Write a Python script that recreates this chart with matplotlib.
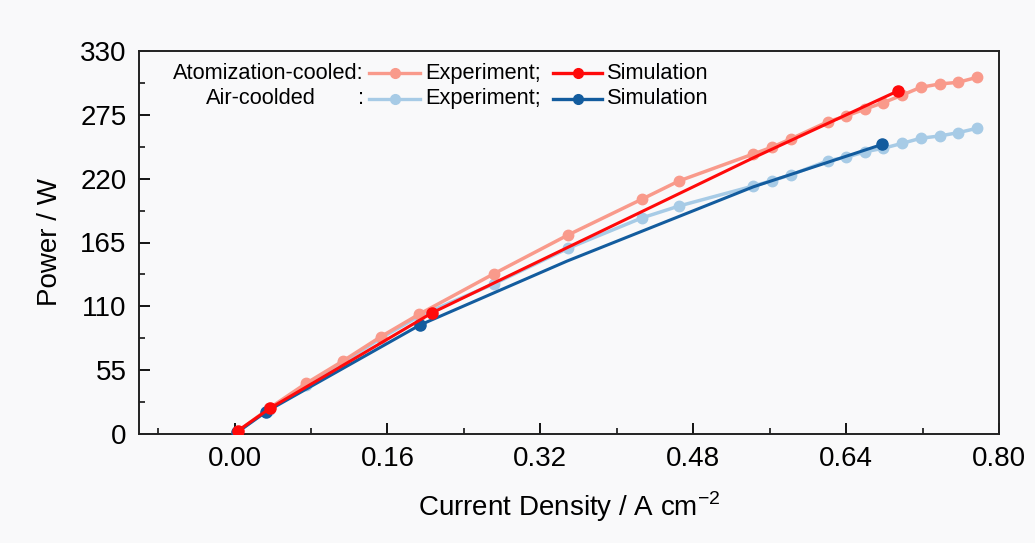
import matplotlib
matplotlib.use("Agg")
import matplotlib.pyplot as plt
from matplotlib.lines import Line2D
from matplotlib.ticker import MultipleLocator

plt.rcParams['font.family'] = ['Liberation Sans', 'DejaVu Sans']
plt.rcParams['mathtext.fontset'] = 'custom'
plt.rcParams['mathtext.rm'] = 'Liberation Sans'

# Atomization-cooled experiment
atom_exp_x = [0.003, 0.036, 0.075, 0.114, 0.153, 0.193, 0.271, 0.349, 0.426, 0.465,
              0.543, 0.562, 0.582, 0.621, 0.640, 0.660, 0.679, 0.699, 0.718, 0.738, 0.757, 0.777]
atom_exp_y = [2.0, 22.0, 43.7, 63.2, 83.8, 103.1, 137.9, 171.5, 202.2, 218.0,
              241.3, 247.0, 254.2, 269.1, 274.0, 280.0, 285.5, 292.1, 298.7, 301.6, 303.0, 307.3]
# Air-cooled experiment
air_exp_x = atom_exp_x
air_exp_y = [1.8, 21.0, 42.0, 62.0, 82.5, 101.5, 129.2, 160.0, 186.1, 196.4,
             213.7, 218.2, 223.2, 235.5, 238.4, 243.2, 246.2, 250.5, 254.8, 256.8, 259.6, 263.4]
# Atomization-cooled simulation (markers on first, second, third and last points)
atom_sim_x = [0.0035, 0.037, 0.207, 0.543, 0.694]
atom_sim_y = [2.8, 22.1, 104.5, 238.0, 295.5]
atom_sim_marks = [0, 1, 2, 4]
# Air-cooled simulation
air_sim_x = [0.003, 0.033, 0.194, 0.348, 0.543, 0.678]
air_sim_y = [1.5, 19.2, 93.9, 149.0, 213.0, 249.6]
air_sim_marks = [0, 1, 2, 5]

xticks = [0.00, 0.16, 0.32, 0.48, 0.64, 0.80]
yticks = [0, 55, 110, 165, 220, 275, 330]

c_salmon = '#F99A8B'
c_red = '#FF0A0A'
c_lblue = '#A7CBE6'
c_dblue = '#135C9E'
bg = '#F9F9FA'

fig = plt.figure(figsize=(10.35, 5.43), dpi=100, facecolor=bg)
ax = fig.add_axes([139/1035, 1-434/543, (999-139)/1035, (434-51)/543], facecolor=bg)

ax.plot(air_exp_x, air_exp_y, color=c_lblue, lw=2.5, marker='o', ms=7.5, zorder=2)
ax.plot(atom_exp_x, atom_exp_y, color=c_salmon, lw=2.5, marker='o', ms=7.5, zorder=3)
ax.plot(air_sim_x, air_sim_y, color=c_dblue, lw=2.2, marker='o', ms=8,
        markevery=air_sim_marks, zorder=4)
ax.plot(atom_sim_x, atom_sim_y, color=c_red, lw=2.2, marker='o', ms=8,
        markevery=atom_sim_marks, zorder=5)

ax.set_xlim(-0.1, 0.8)
ax.set_ylim(0, 330)
ax.set_xticks(xticks)
ax.set_xticklabels([f'{v:.2f}' for v in xticks])
ax.set_yticks(yticks)
ax.xaxis.set_minor_locator(MultipleLocator(0.08))
ax.yaxis.set_minor_locator(MultipleLocator(27.5))
ax.tick_params(which='major', direction='in', length=8, width=1.3, labelsize=20,
               pad=9, top=False, right=False)
ax.tick_params(which='minor', direction='in', length=4, width=1.1, top=False, right=False)
for s in ax.spines.values():
    s.set_linewidth(1.4)
    s.set_color('#222222')

ax.set_xlabel('Current Density / A cm$^{\\mathrm{-2}}$', fontsize=20, labelpad=12)
ax.set_ylabel('Power / W', fontsize=20, labelpad=12)

# custom legend
def px2ax(px, py):
    return ((px - 139) / (999 - 139), (434 - py) / (434 - 51))

fs = 15.7
r1, r2 = 73.3, 98.8
x, y = px2ax(364, r1)
ax.text(x, y, 'Atomization-cooled:', ha='right', va='center', fontsize=fs, transform=ax.transAxes)
x, y = px2ax(316, r2)
ax.text(x, y, 'Air-coolded', ha='right', va='center', fontsize=fs, transform=ax.transAxes)
x, y = px2ax(364, r2)
ax.text(x, y, ':', ha='right', va='center', fontsize=fs, transform=ax.transAxes)

def handle(x0, x1, py, color, ms):
    a0, b = px2ax(x0, py)
    a1, _ = px2ax(x1, py)
    ax.add_line(Line2D([a0, a1], [b, b], color=color, lw=2.4, transform=ax.transAxes, clip_on=False))
    ax.add_line(Line2D([(a0 + a1) / 2], [b], color=color, marker='o', ms=ms, lw=0,
                       transform=ax.transAxes, clip_on=False))

handle(369, 420, r1, c_salmon, 7)
handle(369, 420, r2, c_lblue, 7)
handle(553, 602, r1, c_red, 7)
handle(553, 602, r2, c_dblue, 7)
for row in (r1, r2):
    x, y = px2ax(425, row)
    ax.text(x, y, 'Experiment;', ha='left', va='center', fontsize=fs, transform=ax.transAxes)
    x, y = px2ax(607, row)
    ax.text(x, y, 'Simulation', ha='left', va='center', fontsize=fs, transform=ax.transAxes)

fig.savefig('out.png', dpi=100, facecolor=bg)
